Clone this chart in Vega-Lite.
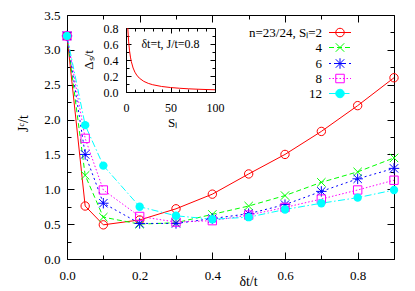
{
  "$schema": "https://vega.github.io/schema/vega-lite/v6.json",
  "width": 327,
  "height": 244,
  "autosize": {"type": "pad"},
  "padding": {"left": 16, "top": 9, "right": 0, "bottom": 0},
  "background": "white",
  "view": {"stroke": null},
  "config": {
    "font": "Liberation Serif",
    "axis": {
      "labelFont": "Liberation Serif", "titleFont": "Liberation Serif",
      "labelColor": "black", "titleColor": "black", "domainColor": "black", "tickColor": "black",
      "grid": false, "titleFontWeight": "normal", "labelFontSize": 13, "titleFontSize": 14,
      "domainWidth": 1, "tickWidth": 1, "labelFlush": false, "labelOverlap": false
    },
    "legend": {
      "labelFont": "Liberation Serif", "labelFontSize": 13, "labelColor": "black", "padding": 0
    }
  },
  "layer": [
    {
      "data": {"values": [
        {"x": 0, "y": 3.2, "s": "2"}, {"x": 0.05, "y": 0.76, "s": "2"}, {"x": 0.1, "y": 0.49, "s": "2"}, {"x": 0.2, "y": 0.56, "s": "2"}, {"x": 0.3, "y": 0.72, "s": "2"}, {"x": 0.4, "y": 0.93, "s": "2"}, {"x": 0.5, "y": 1.22, "s": "2"}, {"x": 0.6, "y": 1.5, "s": "2"}, {"x": 0.7, "y": 1.83, "s": "2"}, {"x": 0.8, "y": 2.2, "s": "2"}, {"x": 0.9, "y": 2.6, "s": "2"},
        {"x": 0, "y": 3.2, "s": "4"}, {"x": 0.05, "y": 1.2, "s": "4"}, {"x": 0.1, "y": 0.6, "s": "4"}, {"x": 0.2, "y": 0.5, "s": "4"}, {"x": 0.3, "y": 0.52, "s": "4"}, {"x": 0.4, "y": 0.64, "s": "4"}, {"x": 0.5, "y": 0.76, "s": "4"}, {"x": 0.6, "y": 0.91, "s": "4"}, {"x": 0.7, "y": 1.1, "s": "4"}, {"x": 0.8, "y": 1.25, "s": "4"}, {"x": 0.9, "y": 1.45, "s": "4"},
        {"x": 0, "y": 3.2, "s": "6"}, {"x": 0.05, "y": 1.5, "s": "6"}, {"x": 0.1, "y": 0.8, "s": "6"}, {"x": 0.2, "y": 0.51, "s": "6"}, {"x": 0.3, "y": 0.51, "s": "6"}, {"x": 0.4, "y": 0.58, "s": "6"}, {"x": 0.5, "y": 0.65, "s": "6"}, {"x": 0.6, "y": 0.78, "s": "6"}, {"x": 0.7, "y": 0.97, "s": "6"}, {"x": 0.8, "y": 1.15, "s": "6"}, {"x": 0.9, "y": 1.3, "s": "6"},
        {"x": 0, "y": 3.2, "s": "8"}, {"x": 0.05, "y": 1.73, "s": "8"}, {"x": 0.1, "y": 0.99, "s": "8"}, {"x": 0.2, "y": 0.61, "s": "8"}, {"x": 0.3, "y": 0.53, "s": "8"}, {"x": 0.4, "y": 0.55, "s": "8"}, {"x": 0.5, "y": 0.63, "s": "8"}, {"x": 0.6, "y": 0.74, "s": "8"}, {"x": 0.7, "y": 0.86, "s": "8"}, {"x": 0.8, "y": 0.99, "s": "8"}, {"x": 0.9, "y": 1.13, "s": "8"},
        {"x": 0, "y": 3.2, "s": "12"}, {"x": 0.05, "y": 1.92, "s": "12"}, {"x": 0.1, "y": 1.34, "s": "12"}, {"x": 0.2, "y": 0.75, "s": "12"}, {"x": 0.3, "y": 0.62, "s": "12"}, {"x": 0.4, "y": 0.57, "s": "12"}, {"x": 0.5, "y": 0.6, "s": "12"}, {"x": 0.6, "y": 0.71, "s": "12"}, {"x": 0.7, "y": 0.8, "s": "12"}, {"x": 0.8, "y": 0.88, "s": "12"}, {"x": 0.9, "y": 0.99, "s": "12"}
      ]},
      "layer": [
        {
          "transform": [{"filter": "datum.s === '2'"}],
          "mark": {"type": "line", "strokeWidth": 1, "color": "#ff0000"},
          "encoding": {
            "x": {"field": "x", "type": "quantitative", "scale": {"domain": [0, 0.9], "nice": false, "zero": false},
              "axis": {"orient": "bottom", "values": [0, 0.1, 0.2, 0.3, 0.4, 0.5, 0.6, 0.7, 0.8, 0.9],
                "labelExpr": "round(datum.value*10)%2==0 ? format(datum.value,'.1f') : ''",
                "tickSize": {"condition": {"test": "round(datum.value*10)%2==0", "value": -7}, "value": -4},
                "labelPadding": 17, "title": "δt/t", "titleX": 181, "titleY": 26, "titleBaseline": "alphabetic", "titleAlign": "center"}},
            "y": {"field": "y", "type": "quantitative", "scale": {"domain": [0, 3.5], "nice": false},
              "axis": {"orient": "left", "values": [0, 0.25, 0.5, 0.75, 1, 1.25, 1.5, 1.75, 2, 2.25, 2.5, 2.75, 3, 3.25, 3.5],
                "labelExpr": "round(datum.value*4)%2==0 ? format(datum.value,'.1f') : ''",
                "tickSize": {"condition": {"test": "round(datum.value*4)%2==0", "value": -7}, "value": -4},
                "labelPadding": 14, "title": "Jᶜ/t", "titleX": -44, "titleY": 108, "titleAngle": -90, "titleBaseline": "middle", "titleAlign": "center"}}
          }
        },
        {
          "transform": [{"filter": "datum.s === '4'"}],
          "mark": {"type": "line", "strokeWidth": 1, "color": "#00ff00", "strokeDash": [5, 3]},
          "encoding": {
            "x": {"field": "x", "type": "quantitative", "scale": {"domain": [0, 0.9], "nice": false, "zero": false}, "axis": null},
            "y": {"field": "y", "type": "quantitative", "scale": {"domain": [0, 3.5], "nice": false}, "axis": null}
          }
        },
        {
          "transform": [{"filter": "datum.s === '6'"}],
          "mark": {"type": "line", "strokeWidth": 1, "color": "#0000ff", "strokeDash": [2, 3]},
          "encoding": {
            "x": {"field": "x", "type": "quantitative", "scale": {"domain": [0, 0.9], "nice": false, "zero": false}, "axis": null},
            "y": {"field": "y", "type": "quantitative", "scale": {"domain": [0, 3.5], "nice": false}, "axis": null}
          }
        },
        {
          "transform": [{"filter": "datum.s === '8'"}],
          "mark": {"type": "line", "strokeWidth": 1, "color": "#ff00ff", "strokeDash": [1.5, 2]},
          "encoding": {
            "x": {"field": "x", "type": "quantitative", "scale": {"domain": [0, 0.9], "nice": false, "zero": false}, "axis": null},
            "y": {"field": "y", "type": "quantitative", "scale": {"domain": [0, 3.5], "nice": false}, "axis": null}
          }
        },
        {
          "transform": [{"filter": "datum.s === '12'"}],
          "mark": {"type": "line", "strokeWidth": 1, "color": "#00ffff", "strokeDash": [7, 2.5, 1.5, 2.5]},
          "encoding": {
            "x": {"field": "x", "type": "quantitative", "scale": {"domain": [0, 0.9], "nice": false, "zero": false}, "axis": null},
            "y": {"field": "y", "type": "quantitative", "scale": {"domain": [0, 3.5], "nice": false}, "axis": null}
          }
        },
        {
          "transform": [{"filter": "datum.s === '2'"}],
          "mark": {"type": "point", "shape": "circle", "size": 70, "strokeWidth": 1, "opacity": 1, "filled": false, "color": "#ff0000"},
          "encoding": {
            "x": {"field": "x", "type": "quantitative", "scale": {"domain": [0, 0.9], "nice": false, "zero": false},
              "axis": {"orient": "top", "values": [0, 0.1, 0.2, 0.3, 0.4, 0.5, 0.6, 0.7, 0.8, 0.9], "labels": false, "title": null,
                "tickSize": {"condition": {"test": "round(datum.value*10)%2==0", "value": -7}, "value": -4}}},
            "y": {"field": "y", "type": "quantitative", "scale": {"domain": [0, 3.5], "nice": false},
              "axis": {"orient": "right", "values": [0, 0.25, 0.5, 0.75, 1, 1.25, 1.5, 1.75, 2, 2.25, 2.5, 2.75, 3, 3.25, 3.5], "labels": false, "title": null,
                "tickSize": {"condition": {"test": "round(datum.value*4)%2==0", "value": -7}, "value": -4}}}
          }
        },
        {
          "transform": [{"filter": "datum.s === '4'"}],
          "mark": {"type": "point", "shape": "M-1,-1L1,1M-1,1L1,-1", "size": 70, "strokeWidth": 1, "opacity": 1, "filled": false, "color": "#00ff00"},
          "encoding": {
            "x": {"field": "x", "type": "quantitative", "scale": {"domain": [0, 0.9], "nice": false, "zero": false}, "axis": null},
            "y": {"field": "y", "type": "quantitative", "scale": {"domain": [0, 3.5], "nice": false}, "axis": null}
          }
        },
        {
          "transform": [{"filter": "datum.s === '6'"}],
          "mark": {"type": "point", "shape": "M-1,-1L1,1M-1,1L1,-1M0,-1.25L0,1.25M-1.25,0L1.25,0", "size": 70, "strokeWidth": 1, "opacity": 1, "filled": false, "color": "#0000ff"},
          "encoding": {
            "x": {"field": "x", "type": "quantitative", "scale": {"domain": [0, 0.9], "nice": false, "zero": false}, "axis": null},
            "y": {"field": "y", "type": "quantitative", "scale": {"domain": [0, 3.5], "nice": false}, "axis": null}
          }
        },
        {
          "transform": [{"filter": "datum.s === '8'"}],
          "mark": {"type": "point", "shape": "square", "size": 70, "strokeWidth": 1, "opacity": 1, "filled": false, "color": "#ff00ff"},
          "encoding": {
            "x": {"field": "x", "type": "quantitative", "scale": {"domain": [0, 0.9], "nice": false, "zero": false}, "axis": null},
            "y": {"field": "y", "type": "quantitative", "scale": {"domain": [0, 3.5], "nice": false}, "axis": null}
          }
        },
        {
          "transform": [{"filter": "datum.s === '12'"}],
          "mark": {"type": "point", "shape": "circle", "size": 70, "strokeWidth": 1, "opacity": 1, "filled": true, "color": "#00ffff"},
          "encoding": {
            "x": {"field": "x", "type": "quantitative", "scale": {"domain": [0, 0.9], "nice": false, "zero": false}, "axis": null},
            "y": {"field": "y", "type": "quantitative", "scale": {"domain": [0, 3.5], "nice": false}, "axis": null}
          }
        },
        {
          "transform": [{"filter": "datum.x === 0"}],
          "mark": {"type": "point", "size": 100, "strokeWidth": 1, "opacity": 0},
          "encoding": {
            "x": {"field": "x", "type": "quantitative", "scale": {"domain": [0, 0.9], "nice": false, "zero": false}, "axis": null},
            "y": {"field": "y", "type": "quantitative", "scale": {"domain": [0, 3.5], "nice": false}, "axis": null},
            "color": {"field": "s", "type": "nominal",
              "scale": {"domain": ["2", "4", "6", "8", "12"], "range": ["#ff0000", "#00ff00", "#0000ff", "#ff00ff", "#00ffff"]},
              "legend": {"title": null, "orient": "none", "legendX": 266.5, "legendY": 11, "symbolSize": 100, "symbolStrokeWidth": 1, "symbolOpacity": 1, "rowPadding": 1, "labelLimit": 300, "labelAlign": "right", "labelOffset": -24.5,
                "labelExpr": "datum.label == '2' ? 'n=23/24, Sₗ=2' : datum.label"}},
            "shape": {"field": "s", "type": "nominal",
              "scale": {"domain": ["2", "4", "6", "8", "12"], "range": [
                "M-2.2,0L2.2,0M0.85,0L0.785,0.325L0.601,0.601L0.325,0.785L0,0.85L-0.325,0.785L-0.601,0.601L-0.785,0.325L-0.85,0L-0.785,-0.325L-0.601,-0.601L-0.325,-0.785L0,-0.85L0.325,-0.785L0.601,-0.601L0.785,-0.325Z",
                "M-2.2,0L-1.2,0M-0.6,0L0.4,0M1,0L2,0M-0.85,-0.85L0.85,0.85M-0.85,0.85L0.85,-0.85",
                "M-2.2,0L-1.8,0M-1.2,0L-0.8,0M-0.2,0L0.2,0M0.8,0L1.2,0M1.8,0L2.2,0M-0.85,-0.85L0.85,0.85M-0.85,0.85L0.85,-0.85M0,-1.05L0,1.05M-1.05,0L1.05,0",
                "M-2.2,0L-1.9,0M-1.5,0L-1.2,0M-0.8,0L-0.5,0M-0.1,0L0.2,0M0.6,0L0.9,0M1.3,0L1.6,0M2,0L2.2,0M-0.85,-0.85L0.85,-0.85L0.85,0.85L-0.85,0.85Z",
                "M-2.2,0L-0.8,0M-0.3,0L0,0M0.5,0L1.9,0M0.85,0L0.785,0.325L0.601,0.601L0.325,0.785L0,0.85L-0.325,0.785L-0.601,0.601L-0.785,0.325L-0.85,0L-0.785,-0.325L-0.601,-0.601L-0.325,-0.785L0,-0.85L0.325,-0.785L0.601,-0.601L0.785,-0.325Z"
              ]},
              "legend": {"title": null, "orient": "none", "legendX": 266.5, "legendY": 11, "symbolSize": 100, "symbolStrokeWidth": 1, "symbolOpacity": 1, "rowPadding": 1, "labelLimit": 300, "labelAlign": "right", "labelOffset": -24.5,
                "labelExpr": "datum.label == '2' ? 'n=23/24, Sₗ=2' : datum.label"}},
            "fill": {"field": "s", "type": "nominal",
              "scale": {"domain": ["2", "4", "6", "8", "12"], "range": ["transparent", "transparent", "transparent", "transparent", "#00ffff"]},
              "legend": {"title": null, "orient": "none", "legendX": 266.5, "legendY": 11, "symbolSize": 100, "symbolStrokeWidth": 1, "symbolOpacity": 1, "rowPadding": 1, "labelLimit": 300, "labelAlign": "right", "labelOffset": -24.5,
                "labelExpr": "datum.label == '2' ? 'n=23/24, Sₗ=2' : datum.label"}}
          }
        }
      ],
      "resolve": {"axis": {"x": "independent", "y": "independent"}}
    },
    {
      "data": {"values": [
        {"S": 2, "d": 0.8}, {"S": 3, "d": 0.626}, {"S": 4, "d": 0.514}, {"S": 5, "d": 0.436}, {"S": 6, "d": 0.379}, {"S": 8, "d": 0.3}, {"S": 10, "d": 0.248}, {"S": 12, "d": 0.212}, {"S": 15, "d": 0.173}, {"S": 20, "d": 0.133}, {"S": 25, "d": 0.108}, {"S": 30, "d": 0.091}, {"S": 40, "d": 0.069}, {"S": 50, "d": 0.056}, {"S": 60, "d": 0.047}, {"S": 70, "d": 0.04}, {"S": 80, "d": 0.035}, {"S": 90, "d": 0.031}, {"S": 100, "d": 0.028}
      ]},
      "layer": [
        {
          "mark": {"type": "line", "color": "#ff0000", "strokeWidth": 1},
          "encoding": {
            "x": {"field": "S", "type": "quantitative", "scale": {"domain": [0, 100], "range": [59, 148], "nice": false},
              "axis": {"orient": "bottom", "offset": -167, "values": [0, 10, 20, 30, 40, 50, 60, 70, 80, 90, 100],
                "labelExpr": "datum.value%50==0 ? format(datum.value,'d') : ''",
                "tickSize": {"condition": {"test": "datum.value%50==0", "value": -5}, "value": -3},
                "labelPadding": 15, "labelFontSize": 12, "title": "Sₗ", "titleFontSize": 13, "titleX": 105, "titleY": 34, "titleBaseline": "alphabetic", "titleAlign": "center"}},
            "y": {"field": "d", "type": "quantitative", "scale": {"domain": [0, 0.8], "range": [77, 13], "nice": false},
              "axis": {"orient": "left", "offset": -59, "values": [0, 0.1, 0.2, 0.3, 0.4, 0.5, 0.6, 0.7, 0.8],
                "labelExpr": "round(datum.value*10)%2==0 ? format(datum.value,'.1f') : ''",
                "tickSize": {"condition": {"test": "round(datum.value*10)%2==0", "value": -5}, "value": -3},
                "labelPadding": 13, "labelFontSize": 12, "title": null}}
          }
        },
        {
          "data": {"values": [{"label": "δt=t, J/t=0.8"}]},
          "mark": {"type": "text", "font": "Liberation Serif", "fontSize": 12, "color": "black", "baseline": "middle", "align": "center"},
          "encoding": {
            "x": {"datum": 50, "type": "quantitative", "scale": {"domain": [0, 100], "range": [59, 148], "nice": false},
              "axis": {"orient": "top", "offset": -13, "values": [0, 10, 20, 30, 40, 50, 60, 70, 80, 90, 100], "labels": false, "title": null,
                "tickSize": {"condition": {"test": "datum.value%50==0", "value": -5}, "value": -3}}},
            "y": {"datum": 0.6, "type": "quantitative", "scale": {"domain": [0, 0.8], "range": [77, 13], "nice": false},
              "axis": {"orient": "right", "offset": -179, "values": [0, 0.1, 0.2, 0.3, 0.4, 0.5, 0.6, 0.7, 0.8], "labels": false, "title": null,
                "tickSize": {"condition": {"test": "round(datum.value*10)%2==0", "value": -5}, "value": -3}}},
            "text": {"field": "label"}
          }
        },
        {
          "data": {"values": [{"label": "Δₛ/t"}]},
          "mark": {"type": "text", "font": "Liberation Serif", "fontSize": 13, "color": "black", "baseline": "middle", "align": "center", "angle": 270},
          "encoding": {
            "x": {"datum": -42, "type": "quantitative", "scale": {"domain": [0, 100], "range": [59, 148], "nice": false}, "axis": null},
            "y": {"datum": 0.4, "type": "quantitative", "scale": {"domain": [0, 0.8], "range": [77, 13], "nice": false}, "axis": null},
            "text": {"field": "label"}
          }
        }
      ],
      "resolve": {"axis": {"x": "independent", "y": "independent"}}
    }
  ],
  "resolve": {"scale": {"x": "independent", "y": "independent"}, "axis": {"x": "independent", "y": "independent"}}
}
